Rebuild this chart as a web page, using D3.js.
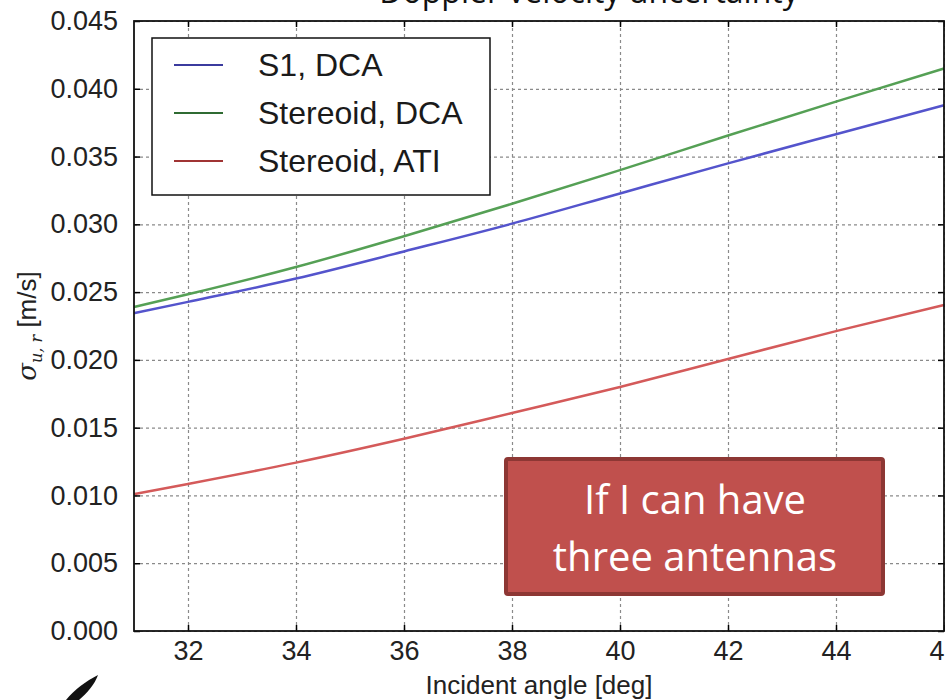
<!DOCTYPE html>
<html>
<head>
<meta charset="utf-8">
<script src="https://cdn.jsdelivr.net/npm/d3@7"></script>
<style>
	body { margin: 0; background: #fff; }
	svg { display: block; }
	.tick text { font-family: "Liberation Sans", Arial, sans-serif; }
</style>
</head>
<body>
<svg width="945" height="700"></svg>
<script>
// incident angle [deg]
var angles = [31, 32, 34, 36, 38, 40, 42, 44, 46];

// doppler velocity uncertainty [m/s]
var s1Dca = [0.02345, 0.02428, 0.02600, 0.02800, 0.03005, 0.03228, 0.03450, 0.03665, 0.03878];
var stereoidDca = [0.02390, 0.02484, 0.02685, 0.02912, 0.03152, 0.03400, 0.03655, 0.03905, 0.04150];
var stereoidAti = [0.01010, 0.01085, 0.01242, 0.01418, 0.01608, 0.01800, 0.02007, 0.02212, 0.02405];

var seriesNames = ["S1, DCA", "Stereoid, DCA", "Stereoid, ATI"];
var xTicks = [32, 34, 36, 38, 40, 42, 44, 46];
var yTicks = [0, 0.005, 0.01, 0.015, 0.02, 0.025, 0.03, 0.035, 0.04, 0.045];

function drawChart() {
	var svg = d3.select("svg"),
		margin = {
			top: 21,
			right: 1,
			bottom: 69,
			left: 134
		},
		width = +svg.attr("width") - margin.left - margin.right,
		height = +svg.attr("height") - margin.top - margin.bottom;

	var x = d3.scaleLinear().domain([31, 46]).range([0, width]),
		y = d3.scaleLinear().domain([0, 0.045]).range([height, 0]);

	var lineColors = ["#5454cc", "#55a055", "#d45a5a"],
		legendColors = ["#3b3b9e", "#2f6b32", "#a03434"];

	// title, cut off by the top of the slide
	svg.append("text")
		.attr("x", 589)
		.attr("y", 3)
		.attr("text-anchor", "middle")
		.style("font-family", "'Open Sans', sans-serif")
		.style("font-size", "32px")
		.style("fill", "#111")
		.text("Doppler velocity uncertainty");

	var g = svg.append("g")
		.attr("transform", "translate(" + margin.left + "," + margin.top + ")");

	// dashed grid
	g.append("g")
		.attr("class", "grid")
		.attr("transform", "translate(0," + height + ")")
		.call(d3.axisBottom(x).tickValues(xTicks).tickSize(-height).tickFormat(""))
		.call(function(s) { s.select(".domain").remove(); })
		.selectAll("line")
		.attr("stroke", "#8a8a8a")
		.attr("stroke-width", 1.2)
		.attr("stroke-dasharray", "3,3");

	g.append("g")
		.attr("class", "grid")
		.call(d3.axisLeft(y).tickValues(yTicks).tickSize(-width).tickFormat(""))
		.call(function(s) { s.select(".domain").remove(); })
		.selectAll("line")
		.attr("stroke", "#8a8a8a")
		.attr("stroke-width", 1.2)
		.attr("stroke-dasharray", "3,3");

	// curves
	var line = d3.line()
		.x(function(d) { return x(d[0]); })
		.y(function(d) { return y(d[1]); })
		.curve(d3.curveMonotoneX);

	var allSeries = [s1Dca, stereoidDca, stereoidAti];
	allSeries.forEach(function(vals, i) {
		var pts = angles.map(function(a, j) { return [a, vals[j]]; });
		g.append("path")
			.datum(pts)
			.attr("fill", "none")
			.attr("stroke", lineColors[i])
			.attr("stroke-width", 2.5)
			.attr("d", line);
	});

	// axes with inward ticks (matplotlib classic)
	var xAxis = g.append("g")
		.attr("transform", "translate(0," + height + ")")
		.call(d3.axisBottom(x).tickValues(xTicks).tickSizeInner(-6).tickSizeOuter(0).tickPadding(10)
			.tickFormat(d3.format("d")));
	xAxis.select(".domain").remove();
	xAxis.selectAll("text").style("font-size", "27px").style("fill", "#222");

	g.append("g")
		.call(d3.axisTop(x).tickValues(xTicks).tickSizeInner(-6).tickSizeOuter(0).tickFormat(""))
		.select(".domain").remove();

	var yAxis = g.append("g")
		.call(d3.axisLeft(y).tickValues(yTicks).tickSizeInner(-6).tickSizeOuter(0).tickPadding(16)
			.tickFormat(d3.format(".3f")));
	yAxis.select(".domain").remove();
	yAxis.selectAll("text").style("font-size", "27px").style("fill", "#222");

	g.append("g")
		.attr("transform", "translate(" + width + ",0)")
		.call(d3.axisRight(y).tickValues(yTicks).tickSizeInner(-6).tickSizeOuter(0).tickFormat(""))
		.select(".domain").remove();

	g.selectAll(".tick line").filter(function() {
		return this.parentNode.parentNode.getAttribute("class") !== "grid";
	}).attr("stroke", "#000").attr("stroke-width", 1.5);

	// frame
	g.append("rect")
		.attr("width", width)
		.attr("height", height)
		.attr("fill", "none")
		.attr("stroke", "#111")
		.attr("stroke-width", 1.8);

	// axis labels
	svg.append("text")
		.attr("x", margin.left + width / 2)
		.attr("y", 694)
		.attr("text-anchor", "middle")
		.style("font-family", "'Liberation Sans', Arial, sans-serif")
		.style("font-size", "26px")
		.style("fill", "#222")
		.text("Incident angle [deg]");

	var yl = svg.append("text")
		.attr("transform", "translate(36," + (margin.top + height / 2) + ") rotate(-90)")
		.attr("text-anchor", "middle")
		.style("font-family", "'Liberation Sans', Arial, sans-serif")
		.style("font-size", "26px")
		.style("fill", "#222");
	yl.append("tspan").style("font-family", "'DejaVu Serif', serif").style("font-style", "italic").text("σ");
	yl.append("tspan").attr("dy", 6).style("font-size", "16px").style("font-family", "'DejaVu Serif', serif")
		.style("font-style", "italic").text("u, r");
	yl.append("tspan").attr("dy", -6).text(" [m/s]");

	// legend
	var leg = svg.append("g").attr("transform", "translate(152,38)");
	leg.append("rect")
		.attr("width", 338)
		.attr("height", 157)
		.attr("fill", "#fff")
		.attr("stroke", "#111")
		.attr("stroke-width", 1.5);
	seriesNames.forEach(function(name, i) {
		var ly = 27 + i * 48;
		leg.append("line")
			.attr("x1", 22).attr("x2", 71)
			.attr("y1", ly).attr("y2", ly)
			.attr("stroke", legendColors[i])
			.attr("stroke-width", 2);
		leg.append("text")
			.attr("x", 106)
			.attr("y", ly + 11)
			.style("font-family", "'Liberation Sans', Arial, sans-serif")
			.style("font-size", "32px")
			.style("fill", "#1a1a1a")
			.text(name);
	});

	// slide call-out box
	var note = svg.append("g");
	note.append("rect")
		.attr("x", 506).attr("y", 459)
		.attr("width", 377).attr("height", 135)
		.attr("rx", 2)
		.attr("fill", "#c0504d")
		.attr("stroke", "#8d3734")
		.attr("stroke-width", 4);
	["If I can have", "three antennas"].forEach(function(t, i) {
		note.append("text")
			.attr("x", 695)
			.attr("y", 514 + i * 57)
			.attr("text-anchor", "middle")
			.style("font-family", "'Open Sans', sans-serif")
			.style("font-size", "40px")
			.style("fill", "#fff")
			.text(t);
	});

	// bit of the slide logo in the corner
	svg.append("path")
		.attr("d", "M66,700 C74,690 86,681 98,675 C95,684 87,693 79,700 Z")
		.attr("fill", "#111");
}

drawChart();
</script>
</body>
</html>
